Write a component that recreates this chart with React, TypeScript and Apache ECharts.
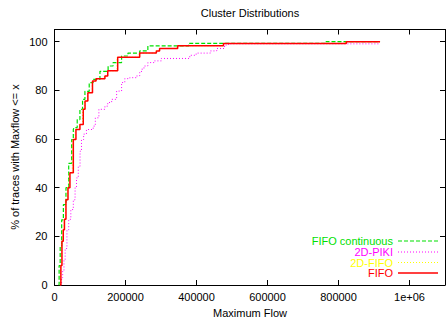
import React, { useEffect, useRef } from "react";
import * as echarts from "echarts";

const xTicks = [0, 200000, 400000, 600000, 800000, 1000000];
const yTicks = [0, 20, 40, 60, 80, 100];

const contX = [10700, 13000, 16000, 20200, 25000, 32300, 40000, 48300, 53000, 54800, 64000, 71600, 79000, 85700, 97800, 109000, 128000, 151000, 165000, 189000, 207000, 240000, 263000, 378000, 765000, 917000];
const contY = [0, 8, 16, 26.8, 33, 40, 50, 59.8, 63.9, 64.7, 68, 72.2, 76.3, 79.6, 83.2, 84.5, 87.8, 90, 91.4, 94.1, 95.3, 96.2, 98.3, 99.3, 100, 100];

const pikiX = [17000, 20000, 23000, 26700, 30000, 35000, 40000, 46000, 53000, 58000, 62000, 67000, 72000, 76000, 82000, 90000, 109000, 115000, 125000, 142000, 150000, 161000, 175000, 189000, 198000, 212000, 231000, 240000, 245000, 252000, 263000, 282000, 301000, 381000, 399000, 439000, 457000, 479000, 490000, 917000];
const pikiY = [0, 3, 6, 10.3, 15, 22.7, 27, 31, 35, 40, 44, 48.8, 55, 59.8, 62, 63.9, 65.3, 68.7, 72.2, 73.5, 75, 76.3, 79.7, 83.2, 84.8, 85.2, 85.9, 87.3, 88.7, 90, 91.4, 92.1, 93.1, 94.4, 95.3, 96.2, 97.2, 98.6, 99.1, 99.1];

const fifo2dX = [14500, 17000, 20000, 23500, 27000, 31000, 36000, 41000, 50000, 58000, 70000, 79000, 85000, 93000, 106000, 116000, 140000, 149000, 176000, 238000, 285000, 294000, 345000, 474000, 820000, 917000];
const fifo2dY = [0, 8, 18, 22.7, 27, 35, 40, 46.1, 59.8, 63.9, 66, 72.2, 75.6, 79, 83.8, 84.8, 85.9, 88, 93.6, 95.3, 96.2, 97.2, 98.3, 99.2, 100, 100];

const fifoX = [15400, 18000, 21000, 24700, 28000, 32300, 38000, 43500, 53000, 60400, 71600, 81000, 86000, 94000, 107000, 117000, 142000, 150000, 178000, 240000, 287000, 296000, 347000, 476000, 822000, 917000];
const fifoY = [0, 8, 18, 22.7, 27, 35, 40, 46.1, 59.8, 63.9, 66, 72.2, 75.6, 79, 83.8, 84.8, 85.9, 88, 93.6, 95.3, 96.2, 97.2, 98.3, 99.2, 100, 100];

const seriesNames = ["FIFO continuous", "2D-PIKI", "2D-FIFO", "FIFO"];
const seriesColors = ["#00e000", "#ff00ff", "#ffff00", "#ff0000"];

const zip = (xs: number[], ys: number[]) => xs.map((x, i) => [x, ys[i]]);

const FONT = "Liberation Sans, Arial, Helvetica, sans-serif";

export default function App() {
  const ref = useRef<HTMLDivElement>(null);
  useEffect(() => {
    if (!ref.current) return;
    const chart = echarts.init(ref.current, undefined, { renderer: "svg" });
    const xFmt = (v: number) => {
      if (!xTicks.includes(v)) return "";
      return v === 1000000 ? "1e+06" : String(v);
    };
    const yFmt = (v: number) => (yTicks.includes(v) ? String(v) : "");
    const baseX = {
      type: "value" as const,
      min: 0,
      max: 1100000,
      interval: 200000,
      splitLine: { show: false },
      axisLine: { show: true, onZero: false, lineStyle: { color: "#000", width: 1 } },
      axisTick: { show: true, inside: true, length: 5, lineStyle: { color: "#000" } },
    };
    const baseY = {
      type: "value" as const,
      min: 0,
      max: 105,
      interval: 20,
      splitLine: { show: false },
      axisLine: { show: true, onZero: false, lineStyle: { color: "#000", width: 1 } },
      axisTick: { show: true, inside: true, length: 5, lineStyle: { color: "#000" } },
    };
    const datasets = [zip(contX, contY), zip(pikiX, pikiY), zip(fifo2dX, fifo2dY), zip(fifoX, fifoY)];
    const styles = [
      { width: 1.2, type: [4, 2] },
      { width: 1, type: [1, 2] },
      { width: 1, type: [1, 2] },
      { width: 1.5, type: "solid" },
    ];
    const legendY = [241, 252, 262.5, 273];
    const graphics: any[] = [
      { type: "text", x: 250, y: 13, style: { text: "Cluster Distributions", textAlign: "center", textVerticalAlign: "middle", font: `11px ${FONT}`, fill: "#000" } },
      { type: "text", x: 250, y: 313, style: { text: "Maximum Flow", textAlign: "center", textVerticalAlign: "middle", font: `11px ${FONT}`, fill: "#000" } },
      { type: "text", x: 15, y: 157, rotation: Math.PI / 2, style: { text: "% of traces with Maxflow <= x", textAlign: "center", textVerticalAlign: "middle", font: `11px ${FONT}`, fill: "#000" } },
    ];
    seriesNames.forEach((n, i) => {
      graphics.push({ type: "text", x: 393, y: legendY[i], style: { text: n, textAlign: "right", textVerticalAlign: "middle", font: `11px ${FONT}`, fill: seriesColors[i] } });
      graphics.push({
        type: "line",
        shape: { x1: 398, y1: legendY[i], x2: 438, y2: legendY[i] },
        style: { stroke: seriesColors[i], lineWidth: styles[i].width, lineDash: styles[i].type === "solid" ? null : styles[i].type },
      });
    });
    chart.setOption({
      animation: false,
      backgroundColor: "#fff",
      grid: { left: 54.5, right: 3, top: 29.5, bottom: 33 },
      xAxis: [
        { ...baseX, position: "bottom", axisLabel: { formatter: xFmt, color: "#000", fontSize: 11, fontFamily: FONT, margin: 6 } },
        { ...baseX, position: "top", axisLabel: { show: false } },
      ],
      yAxis: [
        { ...baseY, position: "left", axisLabel: { formatter: yFmt, color: "#000", fontSize: 11, fontFamily: FONT, margin: 7 } },
        { ...baseY, position: "right", axisLabel: { show: false } },
      ],
      series: datasets.map((d, i) => ({
        name: seriesNames[i],
        type: "line",
        step: "end",
        data: d,
        xAxisIndex: 0,
        yAxisIndex: 0,
        showSymbol: false,
        symbol: "none",
        lineStyle: { color: seriesColors[i], width: styles[i].width, type: styles[i].type as any },
        z: 2 + i,
      })),
      graphic: graphics,
    });
    return () => chart.dispose();
  }, []);
  return <div ref={ref} style={{ position: "fixed", left: 0, top: 0, width: 448, height: 318 }} />;
}
